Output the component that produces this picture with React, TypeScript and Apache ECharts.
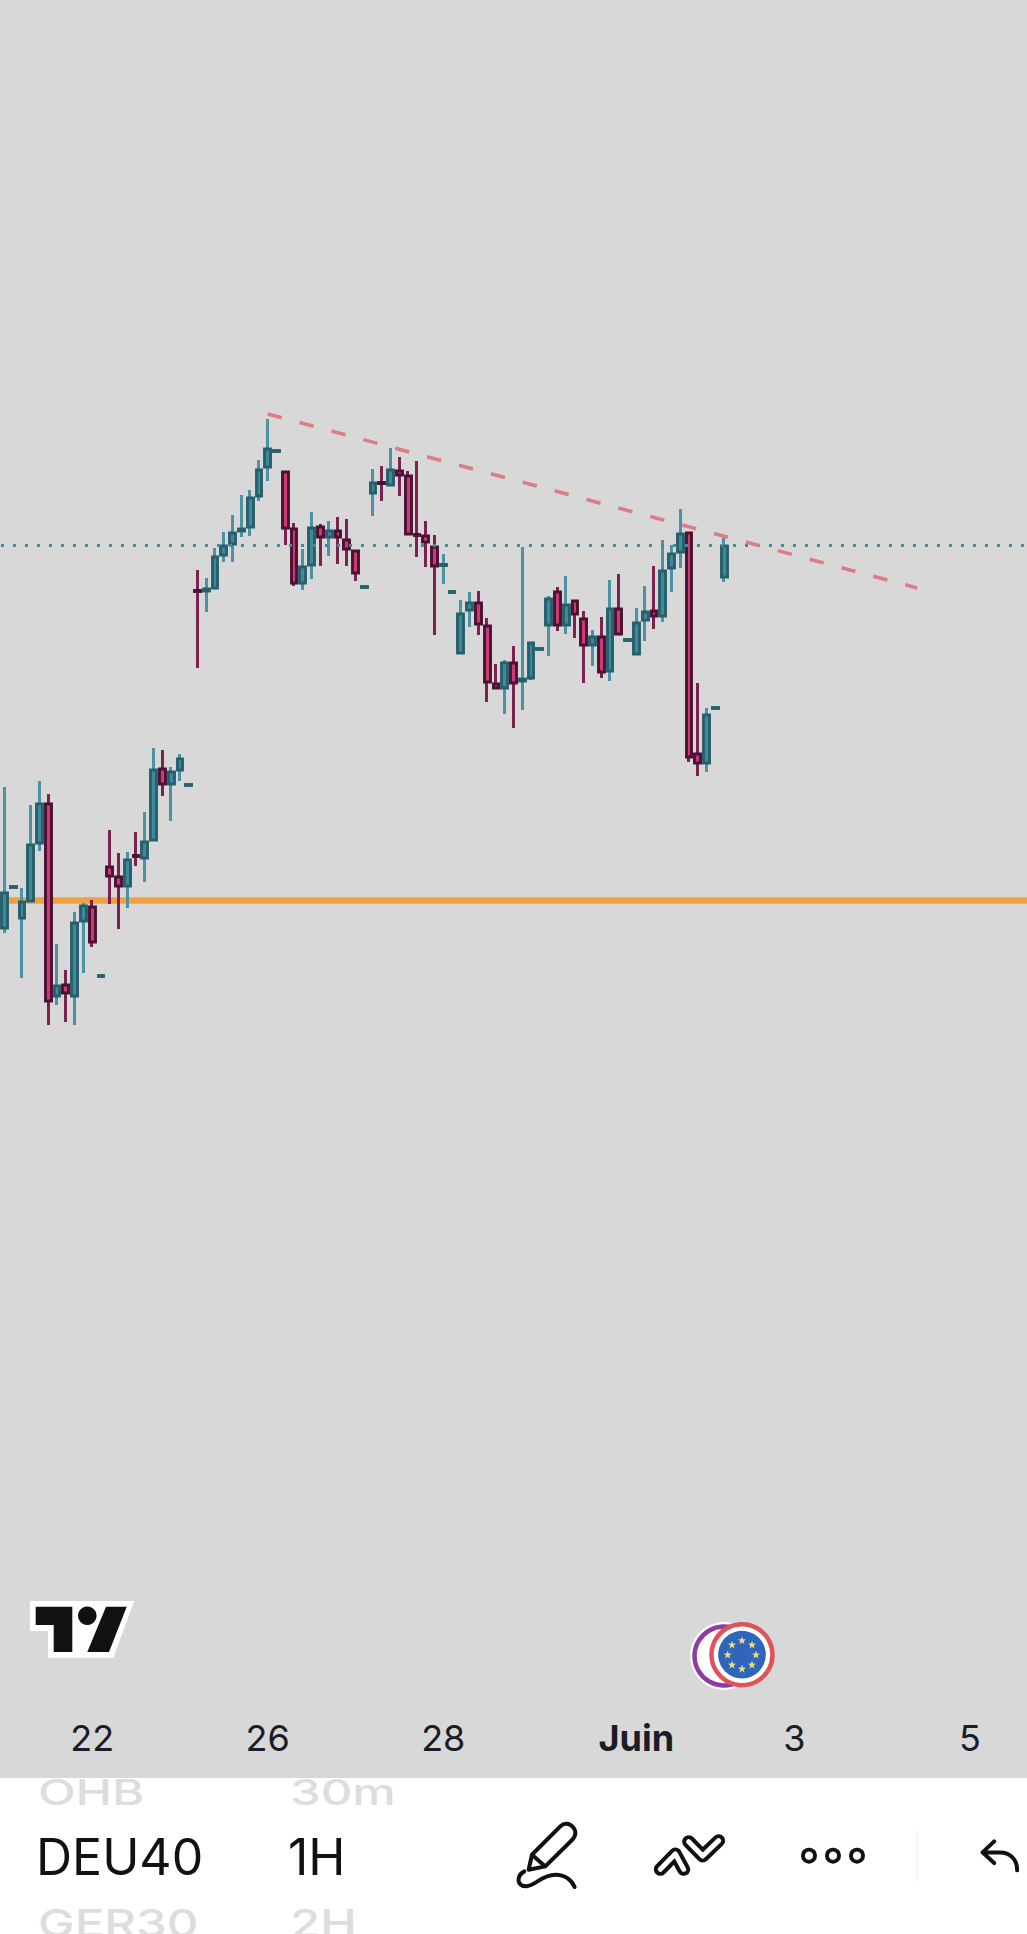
import React, { useEffect, useRef } from "react";
import * as echarts from "echarts";

// ---------- data ----------
const opens = [18072,18112.5,18082,18099,18157,18196,18004,18015,18004,18079,18093,18023.5,18133,18123,18114,18144.5,18142,18160,18231,18216,18230,18214.5,18409.5,18409,18412,18445,18456,18469,18473,18504,18533,18548.5,18528,18471,18417,18435,18473,18463,18469,18460,18449,18412.5,18507,18517.5,18515,18529,18524,18465.5,18464,18453,18434.5,18407.5,18347,18390,18397,18374,18316,18312,18337,18319,18322,18350.5,18375,18408,18375,18399,18381,18355,18363,18329,18391,18359.5,18346,18380,18389,18384,18432,18448,18467,18246,18237,18291.5,18423];
const closes = [18107,18113.5,18098,18155,18196,17999,18014,18007,18077,18094,18058,18024.5,18124,18114,18140,18143.5,18158,18230,18216,18228,18241,18215.5,18408.5,18411,18443,18454,18467,18471,18502,18530,18551,18549.5,18472,18417,18433,18472,18463,18469,18463,18451,18427,18413.5,18517,18516.5,18530,18525,18466,18464.5,18458,18434,18435.5,18408.5,18386,18397,18376,18318,18312,18337,18317,18321,18357,18351.5,18401,18375,18395,18386,18355,18363,18328,18391,18366,18360.5,18377,18388,18384,18429,18446,18466,18243,18237,18285,18292.5,18454];
const lows = [18067,18112.5,18022,18098,18149,17975,17995,17978,17975,18027,18053,18023.5,18096,18071,18092,18134,18118,18159,18204,18179,18219,18214.5,18332,18388,18411,18438,18438,18463,18464,18499,18519,18548.5,18455,18414,18410,18421,18434,18444,18436,18434,18419,18412.5,18484,18499,18514,18504,18465,18443,18433,18365,18416,18407.5,18346,18373,18365,18298,18311,18286,18272,18290,18320,18350.5,18344,18369,18366,18362,18317,18334,18322,18319,18365,18359.5,18345,18359,18371,18378,18408,18432,18238,18224,18228,18291.5,18418];
const highs = [18213,18113.5,18112,18195,18219,18206,18056,18030,18088,18097,18100,18024.5,18170,18147,18148,18168,18188,18252,18250,18233,18246,18215.5,18430,18422,18452,18468,18485,18505,18510,18540,18581,18549.5,18529,18477,18451,18488,18476,18479,18483,18481,18450,18413.5,18531,18534,18552,18543,18529,18539,18479,18465,18446,18408.5,18400,18408,18409,18382,18336,18340,18354,18453,18358,18351.5,18404,18413,18424,18400,18389,18370,18383,18420,18426,18360.5,18392,18414,18434,18460,18455,18491,18468,18317,18292,18292.5,18462];

const tickIndexes = [10, 30, 50, 72, 90, 110];
const tickLabels = ["22", "26", "28", "Juin", "3", "5"];
const slotCount = 117;
const categories = Array.from({ length: slotCount }, (_, i) => String(i));

const supportLevel = 18100;
const lastPriceLevel = 18455;
const trendIndexes = [30, 104];
const trendPrices = [18586, 18412];

const priceMin = 17280;
const priceMax = 19000;

// ---------- icons (drawn in a 3x space, scaled by 1/3) ----------
const penPath =
  "M65 870 L75 825 L160 740 C172 728 188 730 198 742 C208 752 208 768 196 780 L115 860 Z M75 825 L115 860 M52 875 C28 888 28 920 58 920 C85 918 105 885 145 885 C175 885 195 902 203 922";
const arrowPath = "M1463 785 L1428 818 L1463 850 M1428 818 L1480 818 C1510 818 1532 838 1532 872";
echarts.graphic.registerShape("penIcon", echarts.graphic.extendPath(penPath, {}));
echarts.graphic.registerShape("arrowIcon", echarts.graphic.extendPath(arrowPath, {}));

const FONT = "Inter";
const INK = "#111114";
const FAINT = "#DDDDDD";

function iconStyle(lineWidth: number) {
  return { fill: "none", stroke: INK, lineWidth, lineCap: "round", lineJoin: "round" };
}

function zx(z: number) {
  return 507 + z / 3;
}
function zy(z: number) {
  return 1580 + z / 3;
}

function star(cx: number, cy: number) {
  const pts: number[][] = [];
  for (let k = 0; k < 10; k++) {
    const r = k % 2 === 0 ? 4.2 : 1.8;
    const a = -Math.PI / 2 + (k * Math.PI) / 5;
    pts.push([cx + r * Math.cos(a), cy + r * Math.sin(a)]);
  }
  return { type: "polygon", z: 20, silent: true, shape: { points: pts }, style: { fill: "#E9DD84" } };
}

function chevron(points: number[][]) {
  const pts = points.map(([x, y]) => [zx(x), zy(y)]);
  return [
    { type: "polyline", z: 20, silent: true, shape: { points: pts }, style: { fill: "none", stroke: INK, lineWidth: 13, lineCap: "round", lineJoin: "round" } },
    { type: "polyline", z: 21, silent: true, shape: { points: pts }, style: { fill: "none", stroke: "#FFFFFF", lineWidth: 5, lineCap: "round", lineJoin: "round" } },
  ];
}

function pickerText(text: string, x: number, y: number, color: string, fontSize: number, scaleY: number, fontWeight = 400) {
  return {
    type: "text",
    z: 10,
    silent: true,
    x,
    y,
    scaleY,
    style: { text, fill: color, fontFamily: FONT, fontSize, fontWeight, verticalAlign: "middle", align: "left" },
  };
}

function buildGraphic() {
  const eu = [zx(705), zy(224)];
  const starOffsets = [[0, -42], [30, -29], [42, 1], [30, 31], [0, 43], [-30, 31], [-43, 1], [-30, -29]];
  return [
    { type: "rect", z: 1, silent: true, shape: { x: 0, y: 1778, width: 1027, height: 156 }, style: { fill: "#FFFFFF" } },
    pickerText("OHB", 38, 1792, FAINT, 49, 0.72, 500),
    pickerText("30m", 290, 1792, FAINT, 49, 0.72, 500),
    pickerText("DEU40", 36, 1857, INK, 50, 1),
    pickerText("1H", 288, 1857, INK, 50, 1),
    pickerText("GER30", 38, 1923, FAINT, 49, 0.78, 500),
    pickerText("2H", 290, 1923, FAINT, 49, 0.78, 500),
    { type: "rect", z: 11, silent: true, shape: { x: 0, y: 1762, width: 1027, height: 16 }, style: { fill: "#D8D8D8" } },

    // TradingView mark
    { type: "polygon", z: 20, silent: true, shape: { points: [[30, 1601], [134.3, 1601], [113.3, 1657.7], [48, 1657.7], [48, 1631], [30, 1631]] }, style: { fill: "#FFFFFF" } },
    { type: "polygon", z: 21, silent: true, shape: { points: [[35.7, 1606.7], [72.3, 1606.7], [72.3, 1652], [53.7, 1652], [53.7, 1625], [35.7, 1625]] }, style: { fill: INK } },
    { type: "polygon", z: 21, silent: true, shape: { points: [[106, 1606.7], [126.7, 1606.7], [109, 1652], [87.3, 1652]] }, style: { fill: INK } },
    { type: "circle", z: 21, silent: true, shape: { cx: 87.3, cy: 1615.7, r: 9.3 }, style: { fill: INK } },

    // currency badges
    { type: "circle", z: 20, silent: true, shape: { cx: 724, cy: 1656, r: 34 }, style: { fill: "#FFFFFF" } },
    { type: "circle", z: 20, silent: true, shape: { cx: 724, cy: 1656, r: 29.5 }, style: { fill: "#FFFFFF", stroke: "#8E3BA8", lineWidth: 4.5 } },
    { type: "circle", z: 20, silent: true, shape: { cx: eu[0], cy: eu[1], r: 30.5 }, style: { fill: "#FFFFFF", stroke: "#E0525A", lineWidth: 4.5 } },
    { type: "circle", z: 20, silent: true, shape: { cx: eu[0], cy: eu[1], r: 23.8 }, style: { fill: "#2F66BC" } },
    ...starOffsets.map(([dx, dy]) => star(eu[0] + dx / 3, eu[1] + dy / 3)),

    // toolbar
    { type: "penIcon", z: 20, silent: true, x: 507, y: 1580, scaleX: 1 / 3, scaleY: 1 / 3, style: iconStyle(12) },
    ...chevron([[460, 868], [505, 822], [530, 868]]),
    ...chevron([[545, 785], [587, 828], [635, 782]]),
    ...[906, 978, 1050].map((z) => ({
      type: "circle",
      z: 20,
      silent: true,
      shape: { cx: zx(z), cy: zy(827), r: 6 },
      style: { fill: "none", stroke: INK, lineWidth: 3.8 },
    })),
    { type: "line", z: 20, silent: true, shape: { x1: zx(1231), y1: zy(745), x2: zx(1231), y2: zy(910) }, style: { stroke: "#EFEFEF", lineWidth: 1 } },
    { type: "arrowIcon", z: 20, silent: true, x: 507, y: 1580, scaleX: 1 / 3, scaleY: 1 / 3, style: iconStyle(12) },
  ];
}

function buildOption() {
  const wickData = opens.map((o, i) => [o, closes[i], lows[i], highs[i]]);
  const bodyData = opens.map((o, i) => {
    const c = closes[i];
    return [o, c, Math.min(o, c), Math.max(o, c)];
  });
  return {
    animation: false,
    backgroundColor: "#D8D8D8",
    grid: { left: -1.1, top: 0, width: 8.805 * slotCount, height: 1720, containLabel: false },
    xAxis: {
      type: "category",
      data: categories,
      boundaryGap: true,
      axisLine: { show: false },
      axisTick: { show: false },
      splitLine: { show: false },
      axisLabel: {
        show: true,
        margin: 0,
        interval: (index: number) => tickIndexes.includes(index),
        formatter: (_: string, index: number) => {
          const label = tickLabels[tickIndexes.indexOf(index)] ?? "";
          return label === "Juin" ? "{bold|Juin}" : label;
        },
        color: "#1A1C28",
        fontFamily: FONT,
        fontSize: 36,
        lineHeight: 36,
        rich: { bold: { fontFamily: FONT, fontSize: 36, fontWeight: 700, color: "#1A1C28", lineHeight: 36 } },
      },
    },
    yAxis: { type: "value", min: priceMin, max: priceMax, show: false, splitLine: { show: false } },
    series: [
      {
        name: "Mèches",
        type: "candlestick",
        z: 2,
        silent: true,
        barWidth: 1,
        data: wickData,
        itemStyle: { color: "#4C92A3", color0: "#7A2351", borderColor: "#4C92A3", borderColor0: "#7A2351", borderWidth: 3 },
        markLine: {
          z: 1,
          silent: true,
          symbol: "none",
          label: { show: false },
          lineStyle: { color: "#F0A040", width: 6.5, type: "solid", opacity: 1 },
          data: [{ yAxis: supportLevel }],
        },
      },
      {
        name: "DEU40",
        type: "candlestick",
        z: 3,
        silent: true,
        barWidth: 6.2,
        data: bodyData,
        itemStyle: { color: "#3E8A9B", color0: "#C93C72", borderColor: "#27606C", borderColor0: "#4D1035", borderWidth: 2.9 },
      },
      {
        name: "Tendance",
        type: "line",
        z: 5,
        silent: true,
        showSymbol: false,
        symbol: "none",
        data: trendIndexes.map((x, i) => [x, trendPrices[i]]),
        lineStyle: { color: "#DC7C84", width: 3.6, type: [14.5, 18.5] },
        markLine: {
          z: 5,
          silent: true,
          symbol: "none",
          label: { show: false },
          lineStyle: { color: "#3F8D99", width: 3, type: [3, 9], dashOffset: -0.9, opacity: 1 },
          data: [{ yAxis: lastPriceLevel }],
        },
      },
    ],
    graphic: buildGraphic(),
  };
}

export default function App() {
  const ref = useRef<HTMLDivElement>(null);
  useEffect(() => {
    if (!ref.current) return;
    const chart = echarts.init(ref.current, undefined, { renderer: "svg" });
    chart.setOption(buildOption() as any);
    return () => chart.dispose();
  }, []);
  return <div ref={ref} style={{ position: "absolute", left: 0, top: 0, width: 1027, height: 1934 }} />;
}
